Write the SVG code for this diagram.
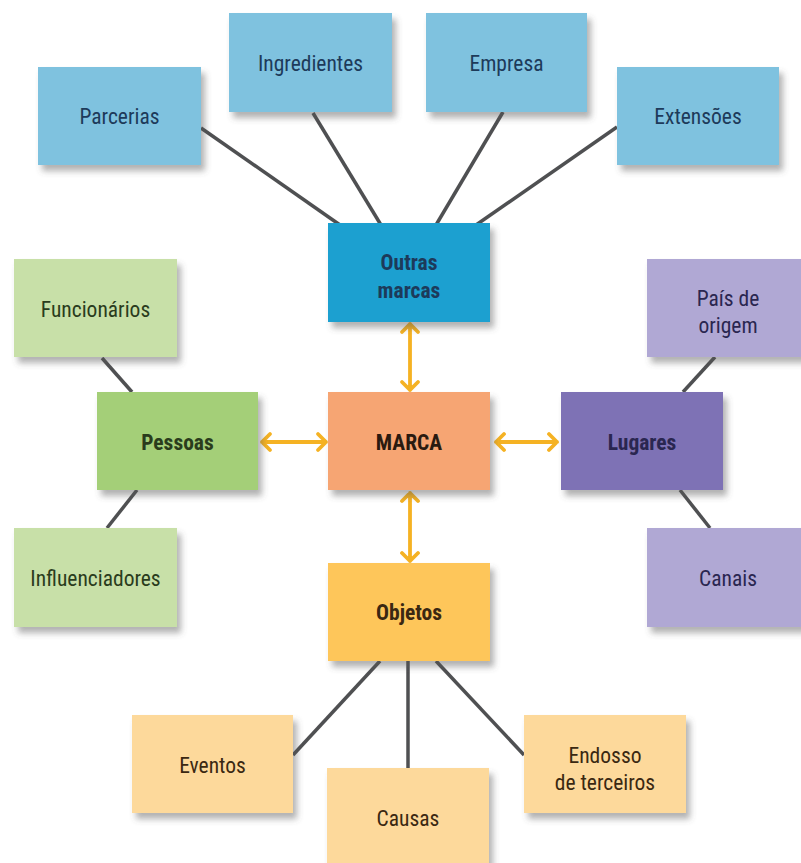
<svg xmlns="http://www.w3.org/2000/svg" width="801" height="863" viewBox="0 0 801 863">
<defs>
<filter id="sh" x="-10%" y="-10%" width="130%" height="140%">
<feDropShadow dx="4" dy="6" stdDeviation="3" flood-color="#555" flood-opacity="0.45"/>
</filter>
<style>
text{font-family:"Liberation Sans Narrow","Roboto Condensed","Liberation Sans",Arial,sans-serif;font-size:21.5px;text-anchor:middle;dominant-baseline:central}
.b{font-weight:bold}
.ln{stroke:#4f5052;stroke-width:3.5;fill:none}
.ar{stroke:#f5b223;stroke-width:3.8;fill:none;stroke-linecap:round;stroke-linejoin:round}
.tb{fill:#1d3a5a}
.tg{fill:#2a3c1c}
.tp{fill:#2a2650}
.to{fill:#3a2812}
</style>
</defs>
<rect width="801" height="863" fill="#ffffff"/>
<g id="connectors">
<line class="ln" x1="201" y1="128" x2="340" y2="225"/>
<line class="ln" x1="313" y1="113" x2="381" y2="225"/>
<line class="ln" x1="503" y1="112" x2="436" y2="225"/>
<line class="ln" x1="617" y1="127" x2="476" y2="225"/>
<line class="ln" x1="102" y1="358" x2="132" y2="392"/>
<line class="ln" x1="137" y1="490" x2="107" y2="528"/>
<line class="ln" x1="715" y1="357" x2="683" y2="392"/>
<line class="ln" x1="680" y1="490" x2="710" y2="528"/>
<line class="ln" x1="380" y1="661" x2="293" y2="755"/>
<line class="ln" x1="408" y1="661" x2="408" y2="768"/>
<line class="ln" x1="436" y1="661" x2="524" y2="755"/>
<path class="ar" d="M262 442H326M270 434L262 442L270 450M318 434L326 442L318 450"/>
<path class="ar" d="M496 442H557M504 434L496 442L504 450M549 434L557 442L549 450"/>
<path class="ar" d="M410 324V390M402 332L410 324L418 332M402 382L410 390L418 382"/>
<path class="ar" d="M410 493V561M402 501L410 493L418 501M402 553L410 561L418 553"/>
</g>
<g id="parcerias"><rect x="38" y="67" width="163" height="98" fill="#7fc2df" filter="url(#sh)"/><text class="tb" x="119.5" y="116">Parcerias</text></g>
<g id="ingredientes"><rect x="229" y="13" width="163" height="99" fill="#7fc2df" filter="url(#sh)"/><text class="tb" x="310.5" y="63">Ingredientes</text></g>
<g id="empresa"><rect x="426" y="13" width="161" height="99" fill="#7fc2df" filter="url(#sh)"/><text class="tb" x="506.5" y="63">Empresa</text></g>
<g id="extensoes"><rect x="617" y="67" width="162" height="98" fill="#7fc2df" filter="url(#sh)"/><text class="tb" x="698" y="116">Extensões</text></g>
<g id="outras-marcas"><rect x="328" y="223" width="162" height="99" fill="#1ea0d0" filter="url(#sh)"/><text class="tb b" x="409" y="262">Outras</text><text class="tb b" x="409" y="290">marcas</text></g>
<g id="funcionarios"><rect x="14" y="259" width="163" height="98" fill="#c8e0a8" filter="url(#sh)"/><text class="tg" x="95.5" y="309">Funcionários</text></g>
<g id="pessoas"><rect x="97" y="392" width="161" height="98" fill="#a4cf78" filter="url(#sh)"/><text class="tg b" x="177.5" y="442">Pessoas</text></g>
<g id="marca"><rect x="328" y="392" width="162" height="98" fill="#f6a573" filter="url(#sh)"/><text class="b" fill="#2a1a10" x="409" y="442">MARCA</text></g>
<g id="lugares"><rect x="561" y="392" width="162" height="98" fill="#7e72b5" filter="url(#sh)"/><text class="tp b" x="642" y="442">Lugares</text></g>
<g id="pais-de-origem"><rect x="647" y="259" width="162" height="98" fill="#b0a8d4" filter="url(#sh)"/><text class="tp" x="728" y="298">País de</text><text class="tp" x="728" y="325">origem</text></g>
<g id="influenciadores"><rect x="14" y="528" width="163" height="99" fill="#c8e0a8" filter="url(#sh)"/><text class="tg" x="95.5" y="578">Influenciadores</text></g>
<g id="canais"><rect x="647" y="528" width="162" height="99" fill="#b0a8d4" filter="url(#sh)"/><text class="tp" x="728" y="578">Canais</text></g>
<g id="objetos"><rect x="328" y="563" width="162" height="98" fill="#fec65a" filter="url(#sh)"/><text class="to b" x="409" y="612">Objetos</text></g>
<g id="eventos"><rect x="132" y="715" width="161" height="98" fill="#fdd99b" filter="url(#sh)"/><text class="to" x="212.5" y="765">Eventos</text></g>
<g id="causas"><rect x="327" y="768" width="162" height="99" fill="#fdd99b" filter="url(#sh)"/><text class="to" x="408" y="818">Causas</text></g>
<g id="endosso"><rect x="524" y="715" width="162" height="98" fill="#fdd99b" filter="url(#sh)"/><text class="to" x="605" y="755">Endosso</text><text class="to" x="605" y="782">de terceiros</text></g>
</svg>
